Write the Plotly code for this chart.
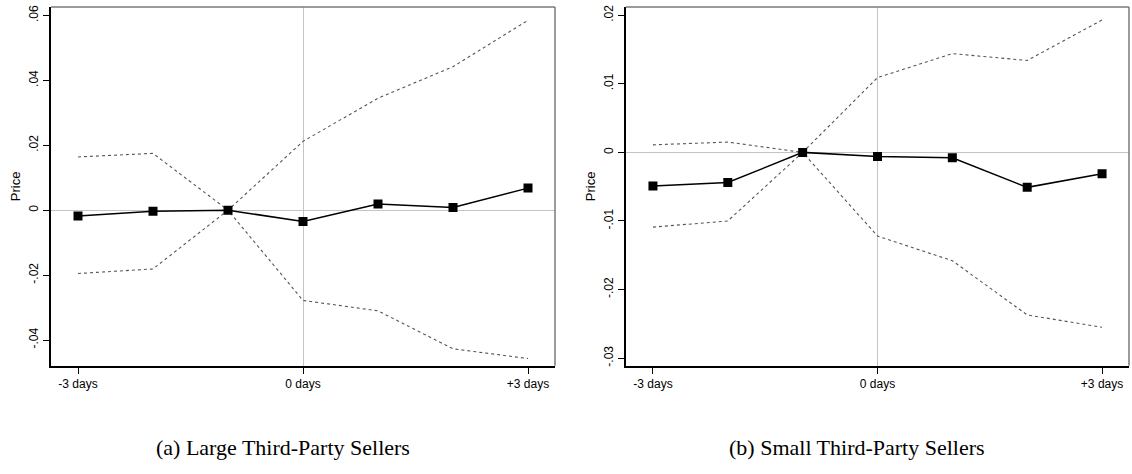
import plotly.graph_objects as go

days = [-3, -2, -1, 0, 1, 2, 3]
x_tickvals = [-3, 0, 3]
x_ticktext = ["-3 days", "0 days", "+3 days"]

large_coef = [-0.0018, -0.0003, 0.0, -0.0035, 0.0019, 0.0008, 0.0068]
large_upper = [0.0164, 0.0175, 0.0, 0.0212, 0.0345, 0.0442, 0.0585]
large_lower = [-0.0195, -0.0181, 0.0, -0.0278, -0.0310, -0.0427, -0.0457]
large_yticks = [-0.04, -0.02, 0, 0.02, 0.04, 0.06]
large_yticktext = ["-.04", "-.02", "0", ".02", ".04", ".06"]

small_coef = [-0.0049, -0.0044, 0.0, -0.0006, -0.0008, -0.0051, -0.0031]
small_upper = [0.0011, 0.0015, 0.0, 0.0109, 0.0144, 0.0134, 0.0193]
small_lower = [-0.0109, -0.0100, 0.0, -0.0122, -0.0158, -0.0237, -0.0255]
small_yticks = [-0.03, -0.02, -0.01, 0, 0.01, 0.02]
small_yticktext = ["-.03", "-.02", "-.01", "0", ".01", ".02"]

captions = ["(a) Large Third-Party Sellers", "(b) Small Third-Party Sellers"]

W, H = 1132, 474
fig = go.Figure()

panels = [
    ("x", "y", large_coef, large_upper, large_lower, large_yticks, large_yticktext, [-0.0479, 0.0626]),
    ("x2", "y2", small_coef, small_upper, small_lower, small_yticks, small_yticktext, [-0.0311, 0.0212]),
]
ci_style = dict(color="#555555", width=1.1, dash="3px,3px")
for xa, ya, coef, up, lo, yt, ytt, yr in panels:
    fig.add_trace(go.Scatter(x=days, y=up, mode="lines", line=ci_style, xaxis=xa, yaxis=ya, showlegend=False))
    fig.add_trace(go.Scatter(x=days, y=lo, mode="lines", line=ci_style, xaxis=xa, yaxis=ya, showlegend=False))
    fig.add_trace(go.Scatter(x=days, y=coef, mode="lines+markers",
                             line=dict(color="black", width=1.5),
                             marker=dict(symbol="square", size=9, color="black"),
                             xaxis=xa, yaxis=ya, showlegend=False))

xdoms = [[51 / W, 555 / W], [626 / W, 1129 / W]]
ydom = [1 - 366 / H, 1 - 5 / H]
tickfont = dict(family="Liberation Sans, Arial, sans-serif", size=12, color="black")

layout = dict(
    width=W, height=H,
    margin=dict(l=0, r=0, t=0, b=0),
    paper_bgcolor="white", plot_bgcolor="white",
    showlegend=False,
)
for i, (xa, ya, coef, up, lo, yt, ytt, yr) in enumerate(panels):
    xname = "xaxis" if i == 0 else "xaxis2"
    yname = "yaxis" if i == 0 else "yaxis2"
    layout[xname] = dict(
        domain=xdoms[i], range=[-3.36, 3.36], anchor=ya,
        tickvals=x_tickvals, ticktext=x_ticktext, tickfont=tickfont,
        ticks="outside", ticklen=6, tickwidth=1, tickcolor="black",
        showgrid=False, zeroline=True, zerolinecolor="#c4c4c4", zerolinewidth=1,
        showline=True, linecolor="black", linewidth=2,
    )
    layout[yname] = dict(
        domain=ydom, range=yr, anchor=xa,
        tickvals=yt, ticktext=ytt, tickfont=tickfont, tickangle=-90,
        ticks="outside", ticklen=6, tickwidth=1, tickcolor="black",
        showgrid=False, zeroline=True, zerolinecolor="#c4c4c4", zerolinewidth=1,
        showline=True, linecolor="black", linewidth=2,
        title=dict(text="Price", font=dict(family="Liberation Sans, Arial, sans-serif", size=13, color="black"), standoff=4),
    )
fig.update_layout(**layout)

shapes = []
for xa, ya in [("x", "y"), ("x2", "y2")]:
    shapes.append(dict(type="line", xref=f"{xa} domain", yref=f"{ya} domain", x0=0, x1=1, y0=1, y1=1,
                       line=dict(color="#7a7a7a", width=1.5)))
    shapes.append(dict(type="line", xref=f"{xa} domain", yref=f"{ya} domain", x0=1, x1=1, y0=0, y1=1,
                       line=dict(color="#7a7a7a", width=1.5)))
fig.update_layout(shapes=shapes)

cap_x = [283 / W, 857 / W]
for cx, txt in zip(cap_x, captions):
    fig.add_annotation(text=txt, x=cx, y=1 - 448 / H, xref="paper", yref="paper",
                       xanchor="center", yanchor="middle", showarrow=False,
                       font=dict(family="Liberation Serif, Times New Roman, serif", size=22, color="black"))

fig.write_html("out.html")
